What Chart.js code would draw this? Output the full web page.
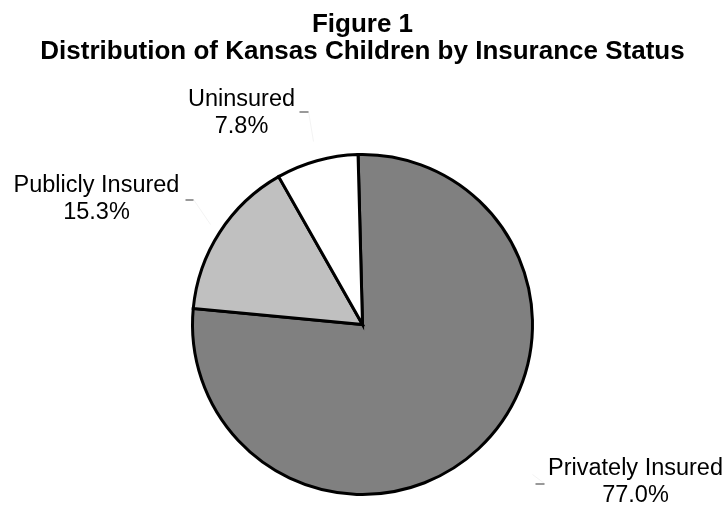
<!DOCTYPE html>
<html>
<head>
<meta charset="utf-8">
<script src="https://cdn.jsdelivr.net/npm/chart.js@4/dist/chart.umd.min.js"></script>
<style>
  html, body { margin: 0; padding: 0; background: #ffffff; }
  #wrap { width: 727px; height: 507px; position: relative; }
</style>
</head>
<body>
<div id="wrap"><canvas id="c" width="727" height="507"></canvas></div>
<script>
const titleLines = ['Figure 1', 'Distribution of Kansas Children by Insurance Status'];
const categories = ['Privately Insured', 'Publicly Insured', 'Uninsured'];
const values = [77.0, 15.3, 7.8];
const sliceColors = ['#808080', '#c0c0c0', '#ffffff'];

// label placement offsets (px) relative to pie centre: [centreX, line1Y]
const labelOffsets = [[273, 144], [-266, -139], [-121, -225]];
// leader dash segments relative to pie centre: [x1, y1, x2, y2]
const dashOffsets = [[173, 159, 182, 159], [-177, -125, -169, -125], [-63, -213, -54, -213]];
const faintOffsets = [[182, 159, 170, 150], [-169, -125, -152, -100], [-54, -213, -49, -183]];

const labelPlugin = {
  id: 'labelPlugin',
  afterDraw(chart) {
    const ctx = chart.ctx;
    const meta = chart.getDatasetMeta(0);
    const arc0 = meta.data[0];
    const cx = arc0.x, cy = arc0.y;
    ctx.save();
    // title
    ctx.fillStyle = '#000';
    ctx.textAlign = 'center';
    ctx.textBaseline = 'alphabetic';
    ctx.font = 'bold 26px "Liberation Sans", Arial, sans-serif';
    ctx.fillText(titleLines[0], cx, 32);
    ctx.fillText(titleLines[1], cx, 59);
    ctx.textBaseline = 'middle';
    // faint leader lines
    ctx.strokeStyle = '#f3f3f3';
    ctx.lineWidth = 1;
    faintOffsets.forEach(o => {
      ctx.beginPath();
      ctx.moveTo(cx + o[0], cy + o[1]);
      ctx.lineTo(cx + o[2], cy + o[3]);
      ctx.stroke();
    });
    // dashes
    ctx.strokeStyle = '#555';
    ctx.lineWidth = 1.2;
    dashOffsets.forEach(o => {
      ctx.beginPath();
      ctx.moveTo(cx + o[0], cy + o[1] + 0.5);
      ctx.lineTo(cx + o[2], cy + o[3] + 0.5);
      ctx.stroke();
    });
    // labels
    ctx.font = '23.5px "Liberation Sans", Arial, sans-serif';
    ctx.fillStyle = '#000';
    categories.forEach((cat, i) => {
      const o = labelOffsets[i];
      ctx.fillText(cat, cx + o[0], cy + o[1]);
      ctx.fillText(values[i].toFixed(1) + '%', cx + o[0], cy + o[1] + 27);
    });
    ctx.restore();
  }
};

new Chart(document.getElementById('c'), {
  type: 'pie',
  data: {
    labels: categories,
    datasets: [{
      data: values,
      backgroundColor: sliceColors,
      borderColor: '#000000',
      borderWidth: 3,
      borderJoinStyle: 'miter',
      hoverOffset: 0
    }]
  },
  options: {
    responsive: false,
    animation: false,
    rotation: -1.5,
    layout: { padding: { top: 153, bottom: 11, left: 191, right: 193 } },
    plugins: {
      legend: { display: false },
      tooltip: { enabled: false },
      title: { display: false }
    }
  },
  plugins: [labelPlugin]
});
</script>
</body>
</html>
